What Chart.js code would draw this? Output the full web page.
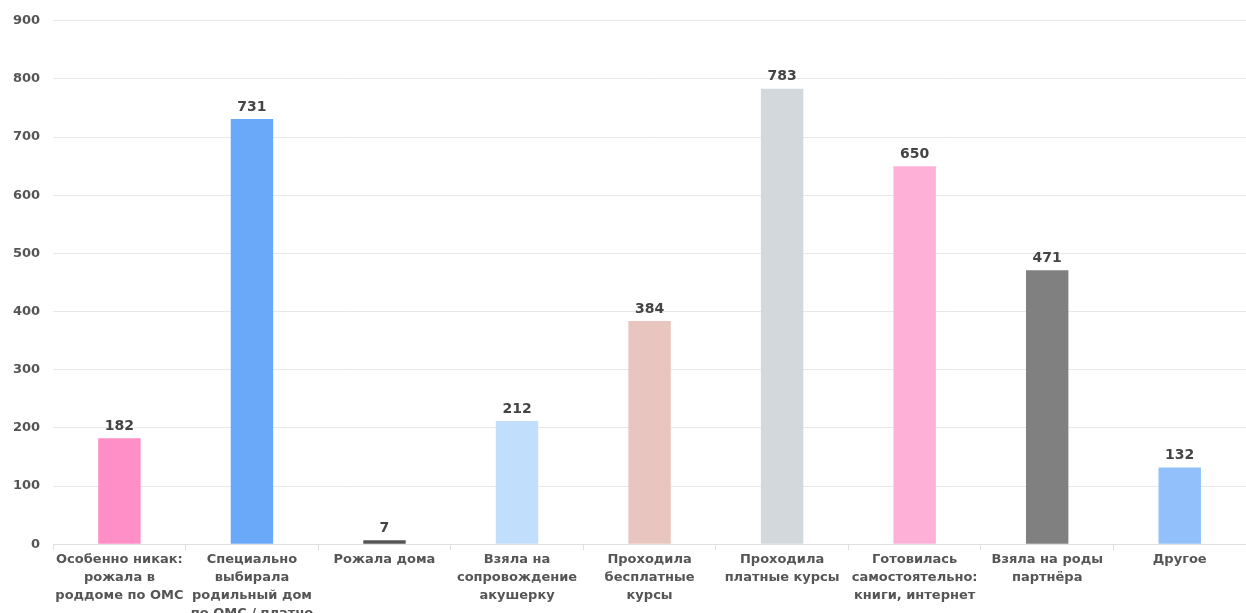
<!DOCTYPE html>
<html>
<head>
<meta charset="utf-8">
<script src="https://cdn.jsdelivr.net/npm/chart.js@4.4.1/dist/chart.umd.min.js"></script>
<style>
  html, body { margin: 0; padding: 0; background: #fff; overflow: hidden; }
  #wrap { width: 1246px; height: 623px; position: relative; }
</style>
</head>
<body>
<div id="wrap"><canvas id="c"></canvas></div>
<script>
const categories = [
  ["Особенно никак:", "рожала в", "роддоме по ОМС"],
  ["Специально", "выбирала", "родильный дом", "по ОМС / платно"],
  ["Рожала дома"],
  ["Взяла на", "сопровождение", "акушерку"],
  ["Проходила", "бесплатные", "курсы"],
  ["Проходила", "платные курсы"],
  ["Готовилась", "самостоятельно:", "книги, интернет"],
  ["Взяла на роды", "партнёра"],
  ["Другое"]
];
const values = [182, 731, 7, 212, 384, 783, 650, 471, 132];
const barColors = ["#ff8fc6", "#6aa9f9", "#545454", "#c2defd", "#e8c5bf", "#d2d8db", "#ffb0d7", "#808080", "#92c0fb"];
const yTicks = [0, 100, 200, 300, 400, 500, 600, 700, 800, 900];

const FONT = "'DejaVu Sans', sans-serif";

const valueLabels = {
  id: 'valueLabels',
  afterDatasetsDraw(chart) {
    const ctx = chart.ctx;
    const meta = chart.getDatasetMeta(0);
    ctx.save();
    ctx.font = "bold 14px " + FONT;
    ctx.fillStyle = "#444444";
    ctx.textAlign = "center";
    ctx.textBaseline = "bottom";
    meta.data.forEach((bar, i) => {
      ctx.fillText(String(values[i]), bar.x, bar.y - 5);
    });
    ctx.restore();
  }
};

new Chart(document.getElementById('c'), {
  type: 'bar',
  data: {
    labels: categories,
    datasets: [{
      data: values,
      backgroundColor: barColors,
      borderWidth: 0,
      barPercentage: 0.4,
      categoryPercentage: 0.8
    }]
  },
  options: {
    responsive: true,
    maintainAspectRatio: false,
    animation: false,
    layout: { padding: { top: 15, right: 0, left: 0, bottom: 0 } },
    plugins: { legend: { display: false }, tooltip: { enabled: false } },
    scales: {
      x: {
        grid: { display: true, drawOnChartArea: false, drawTicks: true, tickLength: 6, color: '#e0e0e0', offset: true },
        border: { display: true, color: '#e0e0e0' },
        ticks: {
          autoSkip: false,
          maxRotation: 0,
          minRotation: 0,
          color: '#555555',
          padding: 0,
          font: { family: FONT, size: 13, weight: 'bold', lineHeight: 1.4 }
        }
      },
      y: {
        min: 0,
        max: 900,
        afterBuildTicks(axis) { axis.ticks = yTicks.map(v => ({ value: v })); },
        grid: { color: '#e8e8e8', drawTicks: false },
        border: { display: false },
        ticks: {
          color: '#555555',
          padding: 13,
          font: { family: FONT, size: 13, weight: 'bold' }
        }
      }
    }
  },
  plugins: [valueLabels]
});
</script>
</body>
</html>
